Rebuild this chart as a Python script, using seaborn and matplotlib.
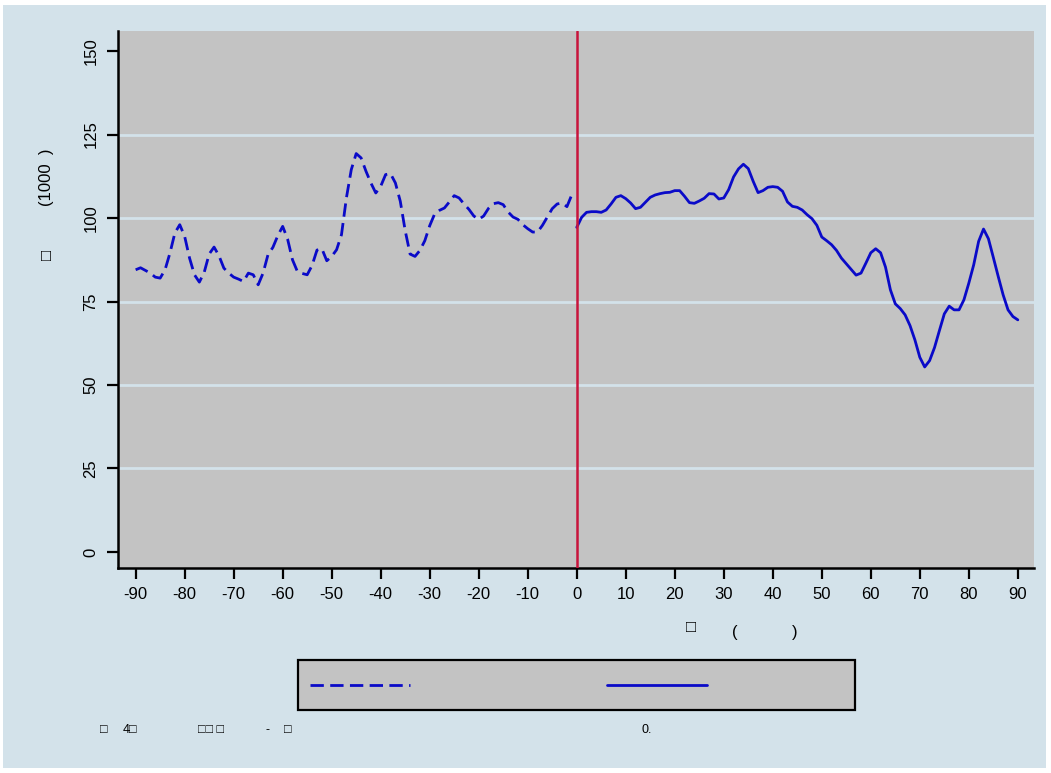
import numpy as np
import pandas as pd
import matplotlib
matplotlib.use("Agg")
import matplotlib.pyplot as plt
from matplotlib.patches import Rectangle
from matplotlib.lines import Line2D
import seaborn as sns

# Days relative to the event (day 0) and daily counts in thousands
days_before = list(range(-90, 0))
values_before = [
    84.5, 85.1, 84.3, 83.5, 82.3, 82.0, 84.5, 89.5, 95.5, 98.0,
    94.5, 88.0, 83.0, 80.8, 83.8, 89.2, 91.3, 88.7, 85.0, 83.5,
    82.3, 81.7, 81.0, 83.5, 83.0, 80.0, 83.5, 89.0, 91.2, 94.7,
    97.5, 93.7, 87.5, 84.0, 83.4, 83.0, 85.8, 90.4, 90.8, 87.2,
    88.5, 90.5, 95.0, 106.0, 114.5, 119.3, 118.0, 114.0, 110.5, 107.5,
    109.5, 113.0, 113.3, 110.5, 105.0, 96.2, 89.2, 88.5, 90.3, 93.2,
    97.7, 101.2, 102.3, 103.0, 104.8, 106.7, 106.0, 104.2, 102.6, 100.6,
    99.6, 100.6, 102.9, 104.3, 104.6, 104.0, 101.8, 100.3, 99.6, 98.0,
    96.8, 95.8, 95.8, 97.8, 100.3, 102.8, 104.2, 104.5, 103.4, 107.0,
]
days_after = list(range(0, 91))
values_after = [
    97.2, 100.2, 101.7, 101.9, 101.9, 101.7, 102.4, 104.2, 106.2, 106.7,
    105.8, 104.5, 102.8, 103.2, 104.7, 106.2, 106.9, 107.3, 107.6, 107.7,
    108.2, 108.2, 106.5, 104.6, 104.4, 105.1, 105.9, 107.3, 107.2, 105.7,
    106.0, 108.5, 112.3, 114.7, 116.1, 114.8, 111.0, 107.6, 108.2, 109.2,
    109.4, 109.2, 108.0, 104.8, 103.5, 103.2, 102.4, 101.0, 99.8, 97.8,
    94.3, 93.2, 92.0, 90.3, 88.0, 86.3, 84.6, 82.9, 83.5, 86.5,
    89.6, 90.8, 89.6, 85.3, 78.5, 74.3, 72.9, 71.0, 67.8, 63.5,
    58.3, 55.4, 57.3, 61.2, 66.3, 71.3, 73.6, 72.5, 72.5, 75.5,
    80.5, 86.0, 93.0, 96.7, 93.8, 88.2, 82.5, 77.0, 72.5, 70.5,
    69.5,
]
x_ticks = list(range(-90, 91, 10))
y_ticks = [0, 25, 50, 75, 100, 125, 150]
event_day = 0

BG = "#d3e2ea"
PANEL = "#c3c3c3"
GRID = "#d3e2ea"
LINE = "#0a0ac8"
EVENT = "#c8143c"
DASH = (0, (4.8, 2.3))

sns.set_theme(style="white")
plt.rcParams["font.family"] = ["Liberation Sans", "DejaVu Sans"]
plt.rcParams["axes.unicode_minus"] = False

W, H = 1051, 773
fig = plt.figure(figsize=(W / 100, H / 100), dpi=100, facecolor="white")
fig.patches.append(Rectangle((3 / W, 5 / H), 1043 / W, 763 / H,
                             transform=fig.transFigure, facecolor=BG,
                             edgecolor="none", zorder=-10))

ax = fig.add_axes([118 / W, (H - 568) / H, 916 / W, 537 / H])
ax.set_facecolor(PANEL)

before = pd.DataFrame({"day": days_before, "value": values_before})
after = pd.DataFrame({"day": days_after, "value": values_after})

for yv in y_ticks[1:-1]:
    ax.axhline(yv, color=GRID, lw=2.0, zorder=0.5)

sns.lineplot(data=before, x="day", y="value", ax=ax, color=LINE, lw=2.0,
             linestyle=DASH, zorder=3)
sns.lineplot(data=after, x="day", y="value", ax=ax, color=LINE, lw=2.0,
             zorder=3)
ax.axvline(event_day, color=EVENT, lw=1.8, zorder=4)

ax.set_xlim(-93.6, 93.3)
ax.set_ylim(-4.8, 156)
ax.set_xticks(x_ticks)
ax.set_xticklabels([str(v) for v in x_ticks])
ax.set_yticks(y_ticks)
ax.set_yticklabels([str(v) for v in y_ticks], rotation=90, va="center")
ax.tick_params(axis="both", which="major", direction="out", length=8,
               width=1.6, color="black", labelsize=12, labelcolor="black",
               pad=6)
ax.tick_params(axis="x", bottom=True)
ax.tick_params(axis="y", left=True)
ax.set_xlabel("")
ax.set_ylabel("")
for side in ["top", "right"]:
    ax.spines[side].set_visible(False)
for side in ["left", "bottom"]:
    ax.spines[side].set_visible(True)
    ax.spines[side].set_color("black")
    ax.spines[side].set_linewidth(1.8)

# axis titles
fig.text(47 / W, 1 - 255 / H, "\u25a1", rotation=90,
         ha="center", va="center", fontsize=12, color="black")
fig.text(47 / W, 1 - 177 / H, "(1000  )", rotation=90,
         ha="center", va="center", fontsize=12, color="black")
fig.text(691 / W, 1 - 627 / H, "\u25a1", ha="center", va="center",
         fontsize=12, color="black")
fig.text(735 / W, 1 - 632 / H, "(", ha="center", va="center",
         fontsize=12, color="black")
fig.text(795 / W, 1 - 632 / H, ")", ha="center", va="center",
         fontsize=12, color="black")

# legend box with the two line keys
fig.patches.append(Rectangle((298 / W, (H - 710) / H), 557 / W, 50 / H,
                             transform=fig.transFigure, facecolor=PANEL,
                             edgecolor="black", lw=1.6, zorder=1))
handles = [Line2D([], [], color=LINE, lw=2.0, linestyle=DASH),
           Line2D([], [], color=LINE, lw=2.0)]
leg = fig.legend(handles, ["", ""], ncol=2, loc="center left",
                 bbox_to_anchor=(310 / W, (H - 686) / H),
                 borderaxespad=0, borderpad=0, handlelength=6.0,
                 handletextpad=0.8, columnspacing=11.0, fontsize=12,
                 frameon=False)
leg.set_zorder(2)

# notes
for xp, txt in [(100, "\u25a1"), (123, "4\u25a1"), (198, "\u25a1\u25a1 \u25a1"),
                 (266, "-"), (284, "\u25a1"), (641, "0.")]:
    fig.text(xp / W, 1 - 730 / H, txt, ha="left", va="center",
             fontsize=9, color="black")

fig.savefig("out.png", dpi=100, facecolor="white")
